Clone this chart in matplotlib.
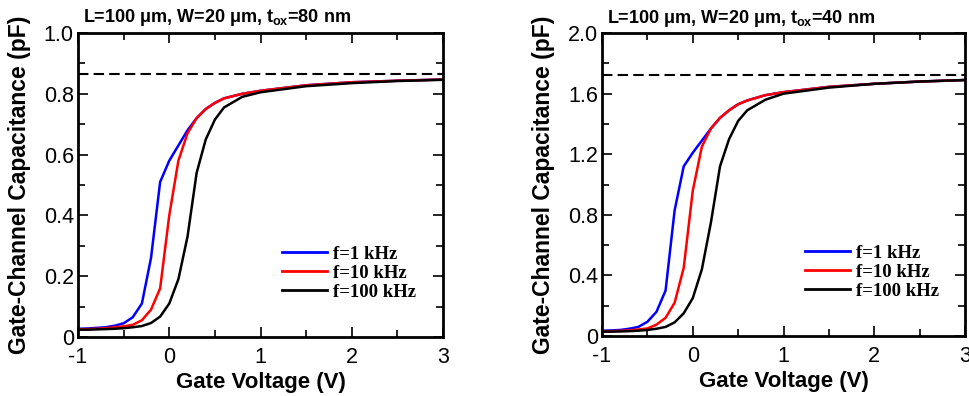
import numpy as np
import matplotlib
matplotlib.use("Agg")
import matplotlib.pyplot as plt

plt.rcParams['font.family'] = 'Liberation Sans'
plt.rcParams['axes.unicode_minus'] = False
plt.rcParams['mathtext.fontset'] = 'custom'
plt.rcParams['mathtext.bf'] = 'Liberation Sans:bold'
plt.rcParams['mathtext.rm'] = 'Liberation Sans:bold'
plt.rcParams['mathtext.default'] = 'bf'

# ------------------- Daten -------------------
vg = [-1.0, -0.9, -0.8, -0.7, -0.6, -0.5, -0.4, -0.3, -0.2, -0.1, 0.0, 0.1, 0.2,
      0.3, 0.4, 0.5, 0.6, 0.8, 1.0, 1.5, 2.0, 2.5, 3.0]

# t_ox = 80 nm
c80_1k = [0.027, 0.028, 0.030, 0.032, 0.037, 0.045, 0.065, 0.11, 0.26, 0.51, 0.58,
          0.63, 0.68, 0.72, 0.75, 0.77, 0.785, 0.80, 0.81, 0.828, 0.838, 0.843, 0.847]
c80_10k = [0.025, 0.026, 0.027, 0.029, 0.032, 0.035, 0.04, 0.055, 0.09, 0.16, 0.40,
           0.58, 0.67, 0.72, 0.75, 0.77, 0.785, 0.80, 0.81, 0.828, 0.838, 0.843, 0.847]
c80_100k = [0.024, 0.024, 0.025, 0.026, 0.027, 0.029, 0.032, 0.036, 0.046, 0.067, 0.11,
            0.19, 0.33, 0.54, 0.65, 0.715, 0.755, 0.79, 0.805, 0.825, 0.835, 0.842, 0.846]
cox80 = 0.865

# t_ox = 40 nm
c40_1k = [0.035, 0.037, 0.040, 0.048, 0.06, 0.094, 0.16, 0.30, 0.83, 1.12, 1.21,
          1.29, 1.37, 1.44, 1.49, 1.53, 1.555, 1.59, 1.61, 1.645, 1.665, 1.68, 1.69]
c40_10k = [0.030, 0.032, 0.034, 0.038, 0.043, 0.05, 0.075, 0.12, 0.22, 0.45, 0.96,
           1.25, 1.37, 1.44, 1.49, 1.53, 1.555, 1.59, 1.61, 1.645, 1.665, 1.68, 1.69]
c40_100k = [0.028, 0.029, 0.030, 0.032, 0.035, 0.04, 0.048, 0.06, 0.09, 0.15, 0.25,
            0.44, 0.75, 1.12, 1.30, 1.42, 1.49, 1.56, 1.60, 1.64, 1.665, 1.68, 1.69]
cox40 = 1.723

freq_labels = ["f=1 kHz", "f=10 kHz", "f=100 kHz"]
farben = ["#0000ff", "#ff0000", "#000000"]


def panel(ax, kurven, cox, ymax, ystep, titel):
    for c, lab, col in zip(kurven, freq_labels, farben):
        ax.plot(vg, c, color=col, lw=1.8, label=lab)
    ax.axhline(cox, color="black", lw=1.5, ls=(0, (5, 2.5)))

    ax.set_xlim(-1, 3)
    ax.set_ylim(0, ymax)
    ax.set_xticks(np.arange(-1, 3.01, 1))
    ax.set_xticks(np.arange(-1, 3.01, 0.5), minor=True)
    yt = np.arange(0, ymax + 1e-9, ystep)
    ax.set_yticks(yt)
    ax.set_yticks(np.arange(0, ymax + 1e-9, ystep / 2), minor=True)
    ax.set_yticklabels(["0"] + ["%.1f" % v for v in yt[1:]])
    ax.tick_params(which="both", direction="in", top=True, right=True,
                   labelsize=15.5, width=1.2)
    ax.tick_params(axis="x", pad=7.5)
    ax.tick_params(axis="y", pad=3)
    ax.tick_params(which="major", length=7)
    ax.tick_params(which="minor", length=5)
    for s in ax.spines.values():
        s.set_linewidth(2)

    ax.set_xlabel("Gate Voltage (V)", fontsize=16, fontweight="bold")
    ax.set_ylabel("Gate-Channel Capacitance (pF)", fontsize=16.5, fontweight="bold")
    ax.xaxis.set_label_coords(0.5, -0.115)
    ax.yaxis.set_label_coords(-0.13, 0.5)
    ax.text(0.015, 1.015, titel, transform=ax.transAxes, fontsize=13,
            fontweight="bold", ha="left", va="bottom")

    leg = ax.legend(loc="lower left", bbox_to_anchor=(0.56, 0.12), frameon=False,
                    prop={"family": "Liberation Serif", "weight": "bold", "size": 13.5},
                    handlelength=2.4, handletextpad=0.3, labelspacing=0.1,
                    borderpad=0, borderaxespad=0)
    for l in leg.get_lines():
        l.set_linewidth(2)


fig = plt.figure(figsize=(9.69, 3.96), dpi=100)
ax1 = fig.add_axes([0.0805, 0.149, 0.3767, 0.7677])
ax2 = fig.add_axes([0.6213, 0.1515, 0.3746, 0.765])

panel(ax1, [c80_1k, c80_10k, c80_100k], cox80, 1.0, 0.2,
      r"L=100 μm, W=20 μm, t$_{ox}$=80 nm")
panel(ax2, [c40_1k, c40_10k, c40_100k], cox40, 2.0, 0.4,
      r"L=100 μm, W=20 μm, t$_{ox}$=40 nm")

fig.savefig("out.png", dpi=100)
